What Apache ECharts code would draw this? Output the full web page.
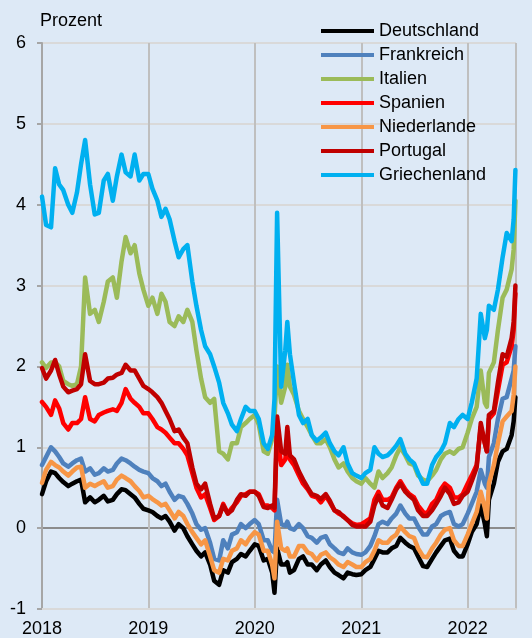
<!DOCTYPE html>
<html>
<head>
<meta charset="utf-8">
<script src="https://cdn.jsdelivr.net/npm/echarts@6/dist/echarts.min.js"></script>
<style>
  html, body { margin: 0; padding: 0; background: #dde9f6; }
  #chart { width: 532px; height: 638px; }
</style>
</head>
<body>
<div id="chart"></div>
<script>
// Rendite 10-jaehriger Staatsanleihen, Prozent (halbmonatliche Stuetzstellen)
var dates = [
  '2018-01-01','2018-01-15','2018-02-01','2018-02-15','2018-03-01','2018-03-15','2018-04-01','2018-04-15','2018-05-01','2018-05-15','2018-05-29','2018-06-15',
  '2018-07-01','2018-07-15','2018-08-01','2018-08-15','2018-09-01','2018-09-15','2018-10-01','2018-10-15','2018-11-01','2018-11-15','2018-12-01','2018-12-15',
  '2019-01-01','2019-01-15','2019-02-01','2019-02-15','2019-03-01','2019-03-15','2019-04-01','2019-04-15','2019-05-01','2019-05-15','2019-06-01','2019-06-15',
  '2019-07-01','2019-07-15','2019-08-01','2019-08-15','2019-09-01','2019-09-15','2019-10-01','2019-10-15','2019-11-01','2019-11-15','2019-12-01','2019-12-15',
  '2020-01-01','2020-01-15','2020-02-01','2020-02-15','2020-03-01','2020-03-09','2020-03-18','2020-04-01','2020-04-15','2020-04-22','2020-05-01','2020-05-15','2020-06-01','2020-06-15',
  '2020-07-01','2020-07-15','2020-08-01','2020-08-15','2020-09-01','2020-09-15','2020-10-01','2020-10-15','2020-11-01','2020-11-15','2020-12-01','2020-12-15',
  '2021-01-01','2021-01-15','2021-02-01','2021-02-15','2021-03-01','2021-03-15','2021-04-01','2021-04-15','2021-05-01','2021-05-15','2021-06-01','2021-06-15',
  '2021-07-01','2021-07-15','2021-08-01','2021-08-15','2021-09-01','2021-09-15','2021-10-01','2021-10-15','2021-11-01','2021-11-15','2021-12-01','2021-12-15',
  '2022-01-01','2022-01-15','2022-02-01','2022-02-15','2022-03-01','2022-03-08','2022-03-15','2022-04-01','2022-04-15','2022-05-01','2022-05-15','2022-06-01','2022-06-08','2022-06-14'
];

var deutschland = [
  0.42, 0.58, 0.70, 0.68, 0.62, 0.57, 0.52, 0.55, 0.58, 0.60, 0.32, 0.38, 0.32, 0.35, 0.40, 0.33, 0.35, 0.42, 0.48, 0.47, 0.42, 0.38, 0.30, 0.24,
  0.22, 0.20, 0.15, 0.12, 0.15, 0.08, -0.03, 0.05, 0.00, -0.10, -0.20, -0.28, -0.35, -0.30, -0.45, -0.65, -0.70, -0.52, -0.55, -0.42, -0.38, -0.32, -0.35, -0.28,
  -0.20, -0.22, -0.40, -0.38, -0.55, -0.80, -0.25, -0.45, -0.45, -0.42, -0.55, -0.52, -0.38, -0.35, -0.45, -0.45, -0.52, -0.45, -0.40, -0.48, -0.55, -0.58, -0.62, -0.55, -0.57, -0.58,
  -0.57, -0.52, -0.48, -0.38, -0.28, -0.30, -0.30, -0.25, -0.22, -0.12, -0.18, -0.22, -0.25, -0.35, -0.47, -0.48, -0.38, -0.30, -0.22, -0.15, -0.13, -0.28, -0.35, -0.35,
  -0.20, -0.05, 0.05, 0.28, 0.05, -0.10, 0.35, 0.55, 0.82, 0.95, 0.98, 1.15, 1.32, 1.62
];
var frankreich = [
  0.78, 0.88, 1.00, 0.95, 0.88, 0.80, 0.76, 0.80, 0.84, 0.86, 0.70, 0.74, 0.66, 0.68, 0.74, 0.70, 0.72, 0.80, 0.86, 0.84, 0.80, 0.76, 0.72, 0.70,
  0.68, 0.62, 0.58, 0.52, 0.55, 0.45, 0.35, 0.40, 0.38, 0.30, 0.18, 0.05, -0.02, 0.00, -0.18, -0.38, -0.40, -0.15, -0.25, -0.08, -0.05, 0.05, 0.00, 0.05,
  0.10, 0.05, -0.15, -0.15, -0.28, -0.30, 0.35, 0.05, 0.03, 0.08, 0.00, -0.02, 0.05, 0.00, -0.10, -0.12, -0.18, -0.12, -0.10, -0.20, -0.25, -0.30, -0.32, -0.25, -0.30, -0.32,
  -0.33, -0.30, -0.22, -0.10, 0.05, 0.08, 0.05, 0.12, 0.18, 0.28, 0.18, 0.12, 0.12, 0.02, -0.08, -0.08, 0.02, 0.05, 0.15, 0.18, 0.20, 0.05, 0.02, 0.05,
  0.18, 0.30, 0.45, 0.72, 0.55, 0.50, 0.88, 1.05, 1.35, 1.60, 1.62, 1.85, 1.95, 2.25
];
var italien = [
  2.05, 1.98, 2.05, 2.05, 2.00, 1.82, 1.78, 1.76, 1.78, 2.00, 3.10, 2.65, 2.70, 2.55, 2.80, 3.05, 3.10, 2.85, 3.30, 3.60, 3.40, 3.50, 3.15, 2.95,
  2.75, 2.85, 2.65, 2.90, 2.80, 2.55, 2.50, 2.62, 2.55, 2.70, 2.55, 2.20, 1.85, 1.62, 1.55, 1.60, 0.95, 0.92, 0.85, 1.05, 1.05, 1.25, 1.30, 1.35,
  1.40, 1.28, 0.95, 0.92, 1.10, 1.35, 2.00, 1.55, 1.75, 2.02, 1.75, 1.65, 1.45, 1.35, 1.25, 1.15, 1.05, 1.05, 1.10, 1.00, 0.85, 0.75, 0.80, 0.70, 0.62, 0.58,
  0.55, 0.62, 0.55, 0.50, 0.70, 0.62, 0.68, 0.75, 0.90, 1.00, 0.90, 0.80, 0.78, 0.65, 0.60, 0.58, 0.65, 0.72, 0.85, 0.92, 0.95, 0.92, 0.98, 1.00,
  1.18, 1.35, 1.50, 1.95, 1.55, 1.50, 1.92, 2.05, 2.45, 2.85, 2.95, 3.20, 3.45, 4.05
];
var spanien = [
  1.56, 1.50, 1.40, 1.58, 1.48, 1.30, 1.22, 1.30, 1.30, 1.35, 1.62, 1.35, 1.32, 1.40, 1.43, 1.45, 1.47, 1.45, 1.55, 1.72, 1.60, 1.55, 1.50, 1.42,
  1.42, 1.35, 1.25, 1.22, 1.18, 1.12, 1.05, 1.05, 0.98, 0.90, 0.68, 0.50, 0.38, 0.42, 0.25, 0.10, 0.15, 0.30, 0.18, 0.25, 0.32, 0.40, 0.42, 0.45,
  0.45, 0.42, 0.28, 0.28, 0.25, 0.22, 1.20, 0.78, 0.85, 1.05, 0.85, 0.78, 0.65, 0.55, 0.48, 0.40, 0.38, 0.32, 0.40, 0.32, 0.22, 0.18, 0.15, 0.10, 0.06, 0.04,
  0.05, 0.08, 0.12, 0.35, 0.45, 0.35, 0.35, 0.38, 0.50, 0.58, 0.48, 0.42, 0.38, 0.28, 0.20, 0.18, 0.30, 0.35, 0.48, 0.55, 0.50, 0.38, 0.38, 0.42,
  0.55, 0.65, 0.78, 1.25, 1.05, 0.95, 1.35, 1.42, 1.70, 2.02, 2.05, 2.25, 2.45, 2.90
];
var niederlande = [
  0.56, 0.72, 0.82, 0.78, 0.75, 0.70, 0.65, 0.70, 0.75, 0.76, 0.50, 0.55, 0.52, 0.55, 0.58, 0.50, 0.52, 0.60, 0.65, 0.62, 0.58, 0.52, 0.46, 0.38,
  0.40, 0.36, 0.32, 0.28, 0.30, 0.22, 0.12, 0.20, 0.15, 0.05, -0.05, -0.12, -0.20, -0.15, -0.35, -0.52, -0.55, -0.38, -0.40, -0.28, -0.25, -0.15, -0.20, -0.12,
  -0.05, -0.08, -0.28, -0.28, -0.45, -0.62, 0.08, -0.25, -0.28, -0.25, -0.35, -0.35, -0.22, -0.22, -0.30, -0.32, -0.40, -0.33, -0.30, -0.36, -0.40, -0.45, -0.48, -0.42, -0.45, -0.48,
  -0.48, -0.42, -0.38, -0.28, -0.15, -0.18, -0.18, -0.12, -0.08, 0.02, -0.05, -0.10, -0.12, -0.25, -0.35, -0.36, -0.25, -0.18, -0.08, -0.02, 0.00, -0.15, -0.22, -0.22,
  -0.08, 0.05, 0.20, 0.45, 0.25, 0.12, 0.55, 0.78, 1.05, 1.32, 1.38, 1.45, 1.65, 2.00
];
var portugal = [
  1.98, 1.85, 1.95, 2.08, 1.90, 1.75, 1.68, 1.70, 1.72, 1.78, 2.15, 1.82, 1.78, 1.78, 1.80, 1.85, 1.86, 1.90, 1.92, 2.02, 1.95, 1.95, 1.85, 1.76,
  1.72, 1.68, 1.62, 1.55, 1.45, 1.35, 1.20, 1.22, 1.12, 1.05, 0.75, 0.55, 0.48, 0.55, 0.30, 0.12, 0.15, 0.28, 0.18, 0.22, 0.35, 0.42, 0.40, 0.45,
  0.45, 0.40, 0.26, 0.25, 0.28, 0.25, 1.38, 0.95, 0.92, 1.25, 0.90, 0.85, 0.70, 0.60, 0.50, 0.42, 0.40, 0.36, 0.42, 0.34, 0.22, 0.20, 0.14, 0.10, 0.04, 0.02,
  0.02, 0.02, 0.08, 0.28, 0.40, 0.28, 0.25, 0.35, 0.48, 0.55, 0.45, 0.40, 0.35, 0.22, 0.15, 0.15, 0.22, 0.30, 0.40, 0.50, 0.42, 0.30, 0.32, 0.40,
  0.45, 0.58, 0.75, 1.30, 1.05, 0.95, 1.40, 1.45, 1.80, 2.15, 2.12, 2.35, 2.55, 3.00
];
var griechenland = [
  4.10, 3.75, 3.72, 4.45, 4.25, 4.18, 4.00, 3.90, 4.15, 4.50, 4.80, 4.25, 3.88, 3.90, 4.30, 4.38, 4.05, 4.35, 4.62, 4.40, 4.35, 4.62, 4.30, 4.38,
  4.38, 4.20, 4.05, 3.85, 3.95, 3.82, 3.55, 3.35, 3.45, 3.50, 3.05, 2.75, 2.45, 2.25, 2.15, 2.00, 1.80, 1.55, 1.42, 1.28, 1.20, 1.35, 1.50, 1.45,
  1.45, 1.35, 1.05, 0.98, 1.15, 1.60, 3.90, 1.75, 2.20, 2.55, 2.15, 1.80, 1.40, 1.30, 1.35, 1.15, 1.08, 1.12, 1.18, 1.05, 0.95, 0.90, 1.00, 0.80, 0.68, 0.65,
  0.62, 0.68, 0.72, 1.00, 0.92, 0.88, 0.90, 0.95, 1.02, 1.10, 0.92, 0.85, 0.80, 0.68, 0.55, 0.55, 0.78, 0.88, 0.95, 1.05, 1.30, 1.25, 1.35, 1.40,
  1.35, 1.55, 1.85, 2.65, 2.35, 2.45, 2.75, 2.70, 2.95, 3.35, 3.65, 3.55, 3.82, 4.43
];

var countries = ['Deutschland', 'Frankreich', 'Italien', 'Spanien', 'Niederlande', 'Portugal', 'Griechenland'];
var values = [deutschland, frankreich, italien, spanien, niederlande, portugal, griechenland];
var colors = ['#000000', '#4f81bd', '#9bbb59', '#ff0000', '#f79646', '#c00000', '#00b0f0'];

var font = 'Liberation Sans, Arial, sans-serif';

function toPairs(vals) {
  return vals.map(function (v, i) { return [dates[i], v]; });
}

var chart = echarts.init(document.getElementById('chart'));

chart.setOption({
  animation: false,
  backgroundColor: '#dde9f6',
  color: colors,
  textStyle: { fontFamily: font },
  title: {
    text: 'Prozent',
    left: 40,
    top: 12,
    padding: 0,
    textStyle: { fontSize: 18, fontWeight: 'normal', color: '#000', fontFamily: font }
  },
  legend: {
    orient: 'vertical',
    left: 321,
    top: 22,
    padding: 0,
    itemGap: 6,
    itemWidth: 53,
    itemHeight: 4,
    icon: 'rect',
    textStyle: { fontSize: 18, lineHeight: 18, color: '#000', fontFamily: font },
    data: countries
  },
  grid: { left: 42, right: 16, top: 43, bottom: 28 },
  xAxis: {
    type: 'time',
    min: '2018-01-01',
    max: '2022-06-16',
    minInterval: 365 * 24 * 3600 * 1000,
    axisLine: { onZero: false, lineStyle: { color: '#d9d9d9', width: 2 } },
    axisTick: { show: false },
    axisLabel: { formatter: '{yyyy}', color: '#000', fontSize: 18, margin: 11, fontFamily: font },
    splitLine: { show: true, lineStyle: { color: '#bfbfbf', width: 2 } }
  },
  yAxis: {
    type: 'value',
    min: -1,
    max: 6,
    interval: 1,
    axisLine: { show: true, lineStyle: { color: '#a6a6a6', width: 2 } },
    axisTick: { show: true, length: 5, lineStyle: { color: '#a6a6a6', width: 2 } },
    axisLabel: { color: '#000', fontSize: 18, margin: 16, fontFamily: font },
    splitLine: {
      show: true,
      lineStyle: {
        color: ['#d9d9d9', '#8c8c8c', '#d9d9d9', '#d9d9d9', '#d9d9d9', '#d9d9d9', '#d9d9d9', '#d9d9d9'],
        width: 2
      }
    }
  },
  series: countries.map(function (name, k) {
    return {
      name: name,
      type: 'line',
      showSymbol: false,
      symbol: 'none',
      lineStyle: { width: 4.5, color: colors[k], join: 'round', cap: 'round' },
      data: toPairs(values[k])
    };
  })
});
</script>
</body>
</html>
